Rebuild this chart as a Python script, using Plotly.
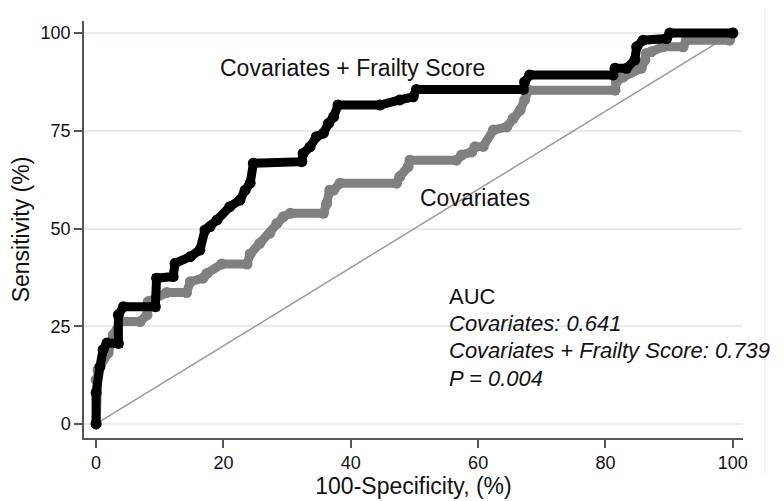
import plotly.graph_objects as go

# ROC step vertices (100-specificity %, sensitivity %)
frail_fpr = [0, 0, 0.6, 1.1, 1.7, 3.5, 3.5, 4.3, 9.3, 9.5,
             12.1, 12.4, 14.8, 16.3, 17.1, 17.9, 19.0, 21.0, 22.6, 23.4,
             24.2, 24.7, 32.3, 32.5, 33.6, 34.6, 35.7, 36.5, 37.3, 38.0,
             44.6, 47.7, 49.8, 50.3, 67.1, 67.3, 68.1, 81.2, 81.5, 83.3,
             84.6, 84.9, 85.9, 89.6, 90.1, 100]
frail_tpr = [0, 8, 14.6, 19, 20.7, 20.6, 27.9, 30, 30, 37.3,
             37.7, 41.1, 42.8, 44.5, 49.6, 50.5, 52.2, 55.6, 57.3, 59.8,
             61.6, 66.7, 67.1, 69.2, 70.9, 73.5, 74.4, 76.9, 78.6, 81.6,
             81.6, 82.9, 83.7, 85.6, 85.6, 87.5, 89.3, 89.3, 91, 91,
             93.1, 96.5, 98.2, 98.6, 100, 100]

cov_fpr = [0, 0, 0.3, 1.9, 2.7, 3.8, 6.9, 8.0, 8.2, 11.1,
           14.2, 14.8, 16.8, 17.4, 19.7, 23.7, 24.2, 25.7, 27.3, 28.4,
           29.4, 30.5, 35.7, 36.2, 36.7, 37.3, 38.3, 47.2, 47.7, 49.0,
           49.3, 56.6, 57.4, 59.0, 59.5, 60.8, 62.4, 64.5, 65.5, 66.6,
           67.3, 67.9, 81.5, 81.7, 82.8, 85.6, 86.2, 86.4, 87.2, 89.0,
           92.2, 92.7, 99.5, 100]
cov_tpr = [0, 11.3, 13.8, 18.2, 22.8, 26.2, 26.2, 27.9, 31.3, 33.6,
           33.6, 36.4, 37.3, 38.5, 40.9, 40.9, 43.5, 46.2, 48.8, 51.3,
           53.0, 53.9, 53.9, 56.4, 59.8, 59.8, 61.6, 61.6, 63.3, 65.8,
           67.5, 67.5, 68.8, 69.6, 70.9, 71, 75.2, 76, 78.2, 80.3,
           82.9, 85.4, 85.4, 87.5, 88.8, 91, 93.1, 94.8, 95.2, 96.5,
           96.5, 98.2, 98.2, 100]

ref_line = [0, 100]
x_ticks = [0, 20, 40, 60, 80, 100]
y_ticks = [0, 25, 50, 75, 100]

auc_lines = ["AUC",
             "<i>Covariates: 0.641</i>",
             "<i>Covariates + Frailty Score: 0.739</i>",
             "<i>P = 0.004</i>"]
auc_y = [32.6, 25.6, 18.7, 11.5]

FONT = "Liberation Sans, Arial, sans-serif"
AXC = "#555555"
# page body has an 8px default margin, so the figure is drawn 8px smaller
W, H = 776, 493
ML, MR, MT, MB = 76, 41, 13, 63
PW, PH = W - ML - MR, H - MT - MB

fig = go.Figure()
fig.add_trace(go.Scatter(x=ref_line, y=ref_line, mode="lines",
                         line=dict(color="#999999", width=1.5),
                         showlegend=False, hoverinfo="skip"))
fig.add_trace(go.Scatter(x=cov_fpr, y=cov_tpr, mode="lines+markers",
                         line=dict(color="#808080", width=9),
                         marker=dict(color="#808080", size=11),
                         name="Covariates", showlegend=False))
fig.add_trace(go.Scatter(x=frail_fpr, y=frail_tpr, mode="lines+markers",
                         line=dict(color="#000000", width=9),
                         marker=dict(color="#000000", size=11),
                         name="Covariates + Frailty Score", showlegend=False))

annotations = [
    dict(x=40.2, y=91, text="Covariates + Frailty Score", showarrow=False,
         xanchor="center", yanchor="middle", font=dict(size=23, color="#111")),
    dict(x=59.5, y=57.8, text="Covariates", showarrow=False,
         xanchor="center", yanchor="middle", font=dict(size=23, color="#111")),
]
for t, yy in zip(auc_lines, auc_y):
    annotations.append(dict(x=55.1, y=yy, text=t, showarrow=False,
                            xanchor="left", yanchor="middle",
                            font=dict(size=22, color="#111")))

fig.update_layout(
    width=W, height=H,
    margin=dict(l=ML, r=MR, t=MT, b=MB, autoexpand=False),
    paper_bgcolor="white", plot_bgcolor="white",
    font=dict(family=FONT, color="#111"),
    annotations=annotations,
    shapes=[dict(type="line", xref="paper", yref="paper",
                 x0=(757 - ML) / PW, x1=(757 - ML) / PW,
                 y0=(H - MB) / PH, y1=(H - MB - 465) / PH,
                 line=dict(color="#eef2f5", width=1.5))],
    xaxis=dict(range=[-1.9, 101.6], tickvals=x_ticks, showgrid=False,
               zeroline=False, showline=True, linecolor=AXC, linewidth=1.5,
               ticks="outside", ticklen=8, tickwidth=1.5, tickcolor=AXC,
               automargin=False,
               tickfont=dict(size=18, family=FONT, color="#111"),
               title=dict(text="100-Specificity, (%)", standoff=3,
                          font=dict(size=23, family=FONT, color="#111"))),
    yaxis=dict(range=[-3.6, 103.1], tickvals=y_ticks, showgrid=True,
               gridcolor="#e6edf1", gridwidth=1.5,
               zeroline=False, showline=True, linecolor=AXC, linewidth=1.5,
               ticks="outside", ticklen=8, tickwidth=1.5, tickcolor=AXC,
               automargin=False,
               tickfont=dict(size=18, family=FONT, color="#111"),
               title=dict(text="Sensitivity (%)", standoff=15,
                          font=dict(size=23, family=FONT, color="#111"))),
)

fig.write_html("out.html")
